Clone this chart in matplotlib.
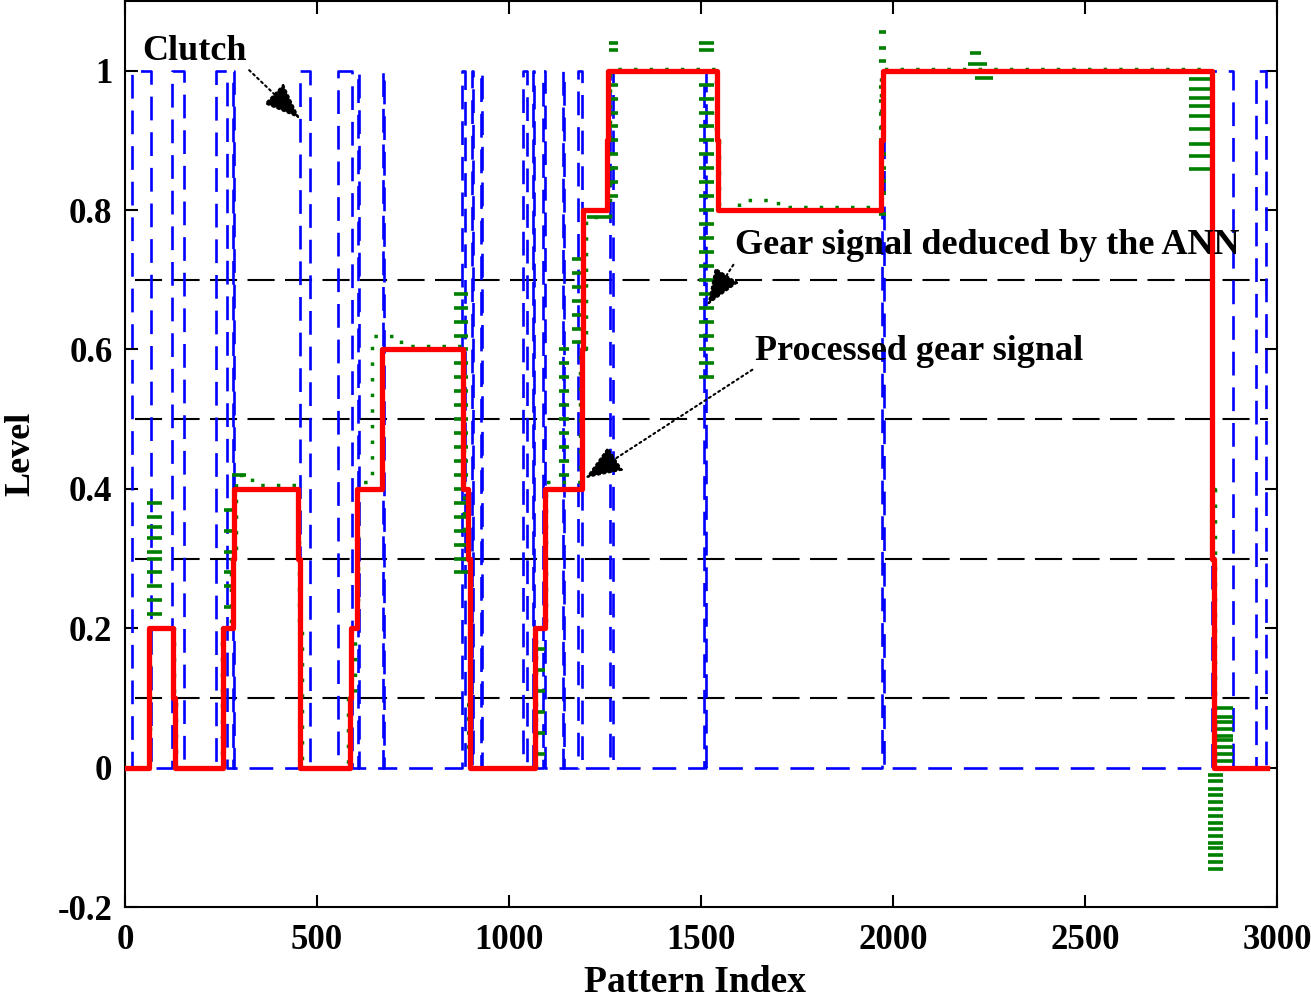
import matplotlib
matplotlib.use('Agg')
import matplotlib.pyplot as plt

plt.rcParams['font.family'] = ['Liberation Serif', 'DejaVu Serif']
plt.rcParams['font.weight'] = 'bold'

# clutch signal: pattern index where each pulse goes up / comes down
clutch_on = [19, 122, 237, 281, 456, 555, 606, 671, 878, 903, 926, 1036, 1062,
             1088, 1140, 1180, 1264, 1507, 1972, 2831, 2945]
clutch_off = [68, 154, 266, 284, 482, 591, 609, 675, 885, 906, 929, 1046, 1065,
              1093, 1143, 1189, 1270, 1513, 1977, 2886, 2972]
clutch_end = 2977

# processed gear signal (steps, value holds until next index)
red_x = [0, 63, 125, 130, 256, 280, 284, 451, 456, 586, 589, 603, 668, 880, 893,
         898, 1068, 1094, 1190, 1194, 1255, 1259, 1541, 1545, 1970, 1974, 2830,
         2836, 2975]
red_y = [0, 0.2, 0.1, 0, 0.2, 0.3, 0.4, 0.3, 0, 0.1, 0.2, 0.4, 0.6, 0.4, 0.3,
         0, 0.2, 0.4, 0.6, 0.8, 0.9, 1.0, 0.9, 0.8, 0.9, 1.0, 0.3, 0, 0]

# gear signal deduced by the ANN (main trace)
green_x = [0, 66, 127, 134, 252, 276, 288, 330, 454, 461, 582, 598, 607, 642,
           720, 884, 899, 1071, 1097, 1186, 1200, 1262, 1540, 1548, 1600, 1700,
           1968, 2832, 2838, 2980]
green_y = [0.0, 0.2, 0.1, 0.0, 0.2, 0.3, 0.42, 0.405, 0.2, 0.0, 0.1, 0.2, 0.41,
           0.62, 0.605, 0.3, 0.0, 0.2, 0.41, 0.6, 0.79, 1.003, 0.9, 0.8, 0.815,
           0.805, 1.003, 0.4, 0.0, 0.0]

# ANN output scatter at the gear changes: (start, end, levels)
green_x0 = [58, 258, 278, 858, 890, 1064, 1131, 1165, 1203, 1260, 1495, 1963,
            2200, 2195, 2213, 2770, 2840, 2820]
green_x1 = [97, 287, 316, 894, 907, 1094, 1156, 1192, 1262, 1283, 1533, 1982,
            2230, 2245, 2260, 2831, 2885, 2859]
green_lv = [
    [0.38, 0.36, 0.345, 0.33, 0.31, 0.30, 0.28, 0.26, 0.24, 0.22],
    [0.37, 0.34, 0.31, 0.28, 0.26, 0.23],
    [0.42],
    [0.68, 0.66, 0.64, 0.62, 0.6, 0.58, 0.56, 0.54, 0.52, 0.5, 0.48, 0.46, 0.44,
     0.42, 0.4, 0.38, 0.36, 0.34, 0.32, 0.3, 0.28],
    [0.09, 0.07, 0.05, 0.03],
    [0.2, 0.17, 0.14, 0.11, 0.08, 0.05, 0.02],
    [0.6, 0.58, 0.56, 0.54, 0.52, 0.5, 0.48, 0.46, 0.44, 0.42],
    [0.73, 0.71, 0.69, 0.67, 0.65, 0.63, 0.61],
    [0.79],
    [1.04, 1.03, 1.0, 0.98, 0.96, 0.94, 0.92, 0.9, 0.88, 0.86, 0.84, 0.82],
    [1.04, 1.03, 1.0, 0.98, 0.96, 0.94, 0.92, 0.9, 0.88, 0.86, 0.84, 0.82, 0.8,
     0.78, 0.76, 0.74, 0.72, 0.7, 0.68, 0.66, 0.64, 0.62, 0.6, 0.58, 0.56],
    [1.055, 1.033, 1.014, 0.976, 0.957, 0.938, 0.918, 0.9, 0.88, 0.86, 0.842,
     0.824, 0.795],
    [1.026],
    [1.01],
    [0.99],
    [0.988, 0.974, 0.961, 0.95, 0.935, 0.917, 0.895, 0.878, 0.859],
    [0.085, 0.072, 0.065, 0.056, 0.046, 0.039, 0.029, 0.02, 0.01],
    [-0.011, -0.019, -0.03, -0.04, -0.05, -0.059, -0.069, -0.079, -0.088,
     -0.098, -0.108, -0.116, -0.126, -0.136, -0.145],
]

grid_levels = [0.1, 0.3, 0.5, 0.7]
grid_start, grid_end = 25, 2977

xticks = [0, 500, 1000, 1500, 2000, 2500, 3000]
yticks = [-0.2, 0, 0.2, 0.4, 0.6, 0.8, 1]
ytick_labels = ['-0.2', '0', '0.2', '0.4', '0.6', '0.8', '1']

fig = plt.figure(figsize=(13.11, 10), dpi=100)
ax = fig.add_axes([125 / 1311, 93 / 1000, 1152 / 1311, 906 / 1000])

for lv in grid_levels:
    ax.plot([grid_start, grid_end], [lv, lv], color='black', lw=1.5,
            linestyle=(0, (13, 5)), zorder=1)

cx, cy = [0], [0]
for on, off in zip(clutch_on, clutch_off):
    cx += [on, on, off, off]
    cy += [0, 1, 1, 0]
cx.append(clutch_end)
cy.append(0)
ax.plot(cx, cy, color='#0000ff', lw=1.9, linestyle=(0, (9, 4.5)), zorder=2)

green = '#008000'
ax.plot(green_x, green_y, color=green, lw=2.5, linestyle=(0, (1, 3.5)),
        drawstyle='steps-post', zorder=3)
for x0, x1, lv in zip(green_x0, green_x1, green_lv):
    ax.hlines(lv, x0, x1, colors=green, lw=2.6, zorder=3)

ax.plot(red_x, red_y, color='#ff0000', lw=3.8, drawstyle='steps-post', zorder=4)

arrow = dict(arrowstyle='-|>,head_length=0.9,head_width=0.35', color='black',
             lw=1.5, ls=':', shrinkA=0, shrinkB=0)
ax.annotate('Clutch', xy=(456, 0.931), xytext=(44, 1.016), fontsize=26,
            fontweight='bold', ha='left', va='baseline',
            arrowprops=dict(arrow, relpos=(1, 0)), zorder=6)
ax.annotate('Gear signal deduced by the ANN', xy=(1516, 0.663),
            xytext=(1589, 0.737), fontsize=26, fontweight='bold', ha='left',
            va='baseline', arrowprops=dict(arrow, relpos=(0, 0)), zorder=6)
ax.annotate('Processed gear signal', xy=(1198, 0.415), xytext=(1641, 0.585),
            fontsize=26, fontweight='bold', ha='left', va='baseline',
            arrowprops=dict(arrow, relpos=(0, 0)), zorder=6)

ax.set_xlim(0, 3000)
ax.set_ylim(-0.2, 1.1)
ax.set_xticks(xticks)
ax.set_yticks(yticks)
ax.set_yticklabels(ytick_labels)
ax.tick_params(direction='in', length=9, width=1.5, top=True, right=True,
               labelsize=25)
ax.tick_params(axis='x', pad=12)
ax.tick_params(axis='y', pad=9)
for s in ax.spines.values():
    s.set_linewidth(1.5)

ax.set_xlabel('Pattern Index', fontsize=27, fontweight='bold')
ax.set_ylabel('Level', fontsize=26, fontweight='bold')
ax.xaxis.set_label_coords(0.495, -0.064)
ax.yaxis.set_label_coords(-0.076, 0.5)

fig.savefig('out.png', dpi=100)
